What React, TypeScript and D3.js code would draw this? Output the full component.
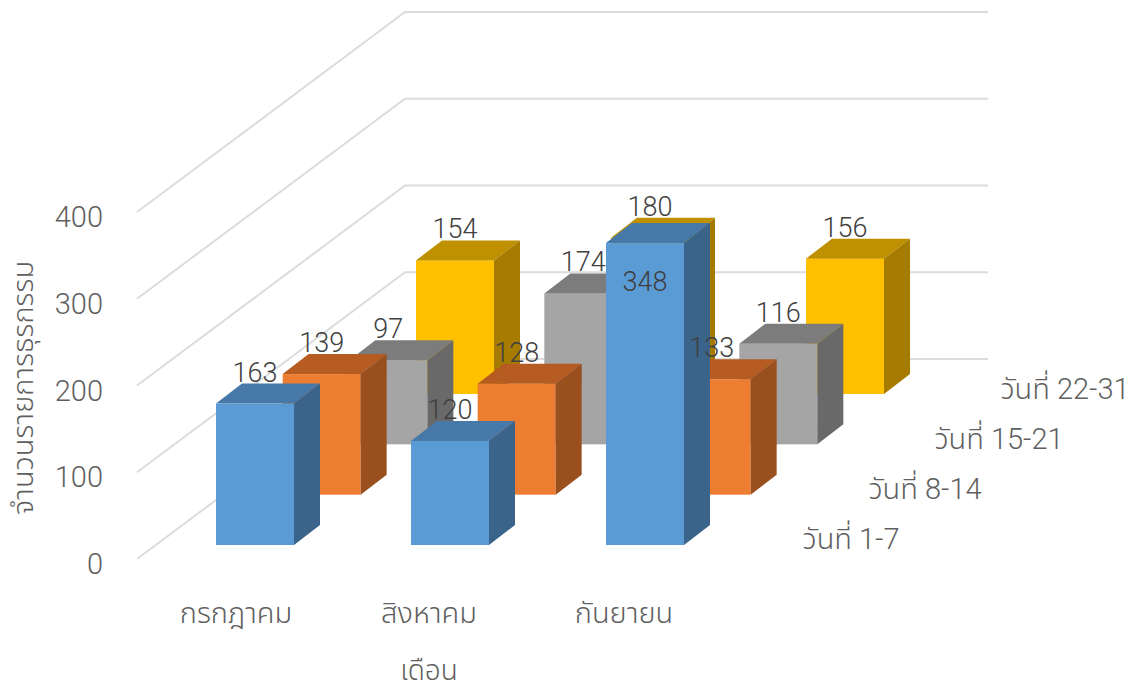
import React from "react";
import * as d3 from "d3";

const months = ["กรกฎาคม", "สิงหาคม", "กันยายน"];
const weeks = ["วันที่ 1-7", "วันที่ 8-14", "วันที่ 15-21", "วันที่ 22-31"];
const week1 = [163, 120, 348];
const week2 = [139, 128, 133];
const week3 = [97, 174, 116];
const week4 = [154, 180, 156];
const ticks = [0, 100, 200, 300, 400];
const fronts = ["#5B9BD5", "#ED7D31", "#A5A5A5", "#FFC000"];
const tops = ["#4678A8", "#B65C22", "#7C7C7C", "#BF9000"];
const sides = ["#3A648A", "#994F1E", "#696969", "#A67C00"];
const font = "Roboto,'Noto Sans Thai','Loma','Garuda','Noto Sans',sans-serif";
const textColor = "#5F5F5F";

const series = [week1, week2, week3, week4];

export default function App() {
  const y = d3.scaleLinear().domain([0, 400]).range([0, 347]);
  const xCat = d3.scalePoint<number>().domain([0, 1, 2]).range([216, 606]);
  const depthX = d3.scalePoint<number>().domain([0, 1, 2, 3]).range([0, 200]);
  const depthY = d3.scalePoint<number>().domain([0, 1, 2, 3]).range([545, 394]);
  const barW = 78, dx = 26, dy = 20;

  const poly = (pts: [number, number][]) => {
    const p = d3.path();
    pts.forEach(([a, b], i) => (i ? p.lineTo(a, b) : p.moveTo(a, b)));
    p.closePath();
    return p.toString();
  };

  const bars: React.ReactNode[] = [];
  const labels: React.ReactNode[] = [];
  [3, 2, 1, 0].forEach((s) => {
    series[s].forEach((v, c) => {
      const x = xCat(c)! + depthX(s)!;
      const base = depthY(s)!;
      const top = base - y(v);
      bars.push(
        <g key={`${s}-${c}`}>
          <rect x={x} y={top} width={barW} height={base - top} fill={fronts[s]} />
          <path d={poly([[x, top], [x + barW, top], [x + barW + dx, top - dy], [x + dx, top - dy]])} fill={tops[s]} />
          <path d={poly([[x + barW, top], [x + barW + dx, top - dy], [x + barW + dx, base - dy], [x + barW, base]])} fill={sides[s]} />
        </g>
      );
      const inside = v > 300;
      labels.push(
        <text key={`l${s}-${c}`} x={x + 39} y={inside ? top + 48 : top - 22} textAnchor="middle" fontSize={27} fontWeight={300} fill="#404040">{v}</text>
      );
    });
  });

  return (
    <svg width={1139} height={688} style={{ position: "absolute", left: 0, top: 0, fontFamily: font }}>
      <rect width={1139} height={688} fill="#fff" />
      {ticks.map((t) => {
        const h = y(t);
        const p = d3.line()([[137, 559 - h], [405, 359 - h], [988, 359 - h]]);
        return <path key={t} d={p!} fill="none" stroke="#DCDCDC" strokeWidth={2} />;
      })}
      {bars}
      {labels}
      {ticks.map((t) => (
        <text key={t} x={103} y={574 - y(t)} textAnchor="end" fontSize={29} fontWeight={300} fill={textColor}>{t}</text>
      ))}
      <text transform="translate(33,388) rotate(-90)" textAnchor="middle" fontSize={29} fontWeight={300} fill={textColor}>จำนวนรายการธุรกรรม</text>
      {months.map((m, i) => (
        <text key={m} x={[236, 429, 624][i]} y={623} textAnchor="middle" fontSize={29} fontWeight={300} fill={textColor}>{m}</text>
      ))}
      <text x={429} y={680} textAnchor="middle" fontSize={28} fontWeight={300} fill={textColor}>เดือน</text>
      {weeks.map((w, i) => (
        <text key={w} x={[851, 925, 999, 1065][i]} y={[549, 499, 449, 399][i]} textAnchor="middle" fontSize={29} fontWeight={300} fill={textColor}>{w}</text>
      ))}
    </svg>
  );
}
